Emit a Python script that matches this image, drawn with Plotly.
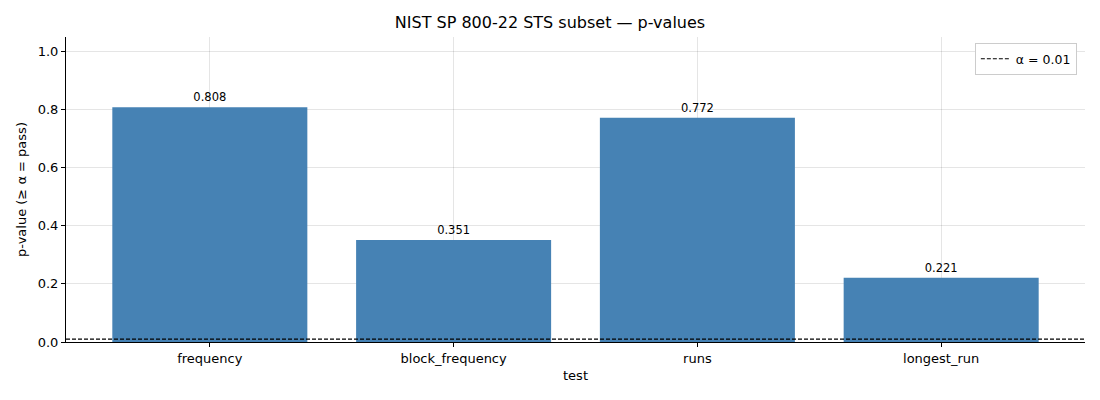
import plotly.graph_objects as go

tests = ["frequency", "block_frequency", "runs", "longest_run"]
p_values = [0.808, 0.351, 0.772, 0.221]
alpha = 0.01
bar_color = "#4682B4"

fig = go.Figure()
fig.add_trace(go.Bar(x=tests, y=p_values, marker_color=bar_color, marker_line_width=0,
                     width=0.8,
                     text=[f"{v:.3f}" for v in p_values], textposition="outside",
                     textfont=dict(size=11.5, color="black"), cliponaxis=False,
                     showlegend=False))
fig.add_hline(y=alpha, line=dict(color="black", width=1.1, dash="4px,2px"),
              showlegend=True, name="α = 0.01")

fig.update_layout(
    width=1100, height=400,
    margin=dict(l=66, r=15, t=37, b=58),
    plot_bgcolor="white", paper_bgcolor="white",
    font=dict(family="DejaVu Sans", size=13, color="black"),
    title=dict(text="NIST SP 800-22 STS subset — p-values", x=0.5, xanchor="center",
               y=0.943, yanchor="middle", font=dict(size=16)),
    legend=dict(x=0.992, y=0.98, xanchor="right", yanchor="top",
                bordercolor="#cccccc", borderwidth=1, bgcolor="white",
                font=dict(size=12.5), tracegroupgap=0),
    bargap=0.2,
)
fig.update_xaxes(title=dict(text="test", standoff=6, font=dict(size=13)), range=[-0.59, 3.59],
                 showline=True, linecolor="black", linewidth=1,
                 ticks="outside", ticklen=4, tickcolor="black",
                 showgrid=True, gridcolor="rgba(0,0,0,0.1)", layer="above traces")
fig.update_yaxes(title=dict(text="p-value (≥ α = pass)", standoff=8, font=dict(size=13)),
                 range=[0, 1.05],
                 tickvals=[0, 0.2, 0.4, 0.6, 0.8, 1.0], tickformat=".1f",
                 showline=True, linecolor="black", linewidth=1,
                 ticks="outside", ticklen=4, tickcolor="black",
                 showgrid=True, gridcolor="rgba(0,0,0,0.1)", zeroline=False,
                 layer="above traces")

fig.write_html("out.html", config={"displayModeBar": False},
               post_script="document.body.style.margin='0';")
